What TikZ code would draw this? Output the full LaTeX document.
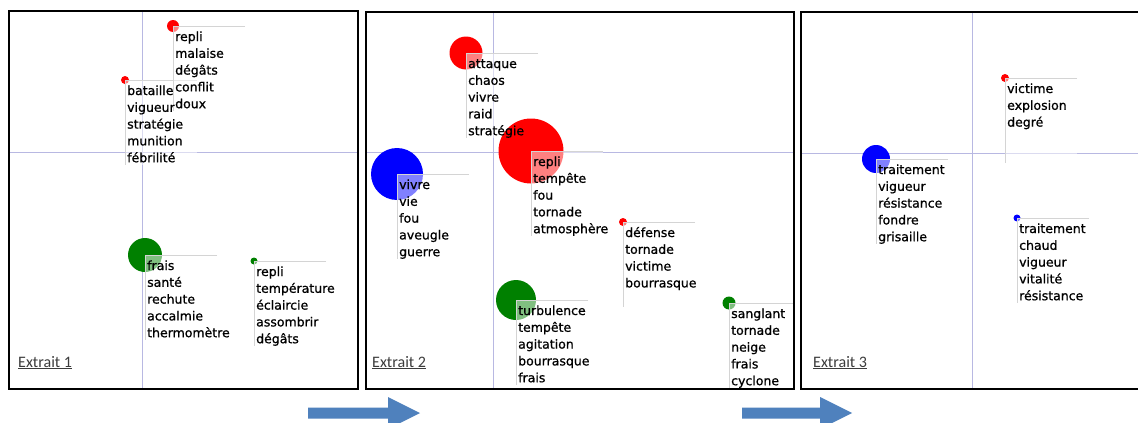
\documentclass[tikz,border=0pt]{standalone}
\usepackage{fontspec}
\setmainfont{DejaVu Sans}
\newfontfamily\wordfont{DejaVu Sans}[RawFeature={embolden=0.9}]
\newfontfamily\captionfont{Carlito}

\pgfdeclarelayer{front}
\pgfsetlayers{main,front}

\definecolor{axiscol}{RGB}{184,184,226}
\definecolor{edgecol}{RGB}{212,212,212}
\definecolor{dotred}{RGB}{255,0,0}
\definecolor{dotblue}{RGB}{0,0,255}
\definecolor{dotgreen}{RGB}{0,128,0}
\definecolor{arrowblue}{RGB}{79,129,189}
\definecolor{captioncol}{RGB}{60,60,60}

\tikzset{
  panelframe/.style={draw=black, line width=1.4pt},
  axisline/.style={draw=axiscol, line width=1pt},
  dot/.style={circle, inner sep=0pt, draw=none},
  labelbox/.style={fill=white, fill opacity=0.5},
  boxedge/.style={draw=edgecol, line width=1pt},
  word/.style={font=\wordfont\fontsize{12.5}{15}\selectfont, anchor=base west, inner sep=0pt, text=black},
  caption/.style={font=\captionfont\fontsize{16}{19}\selectfont, text=captioncol, anchor=base west, inner sep=0pt},
  flowarrow/.style={fill=arrowblue, draw=none},
}

% One group of words: a dot, a half-transparent label box and the word list
% #1 name, #2 x, #3 y, #4 radius, #5 colour, #6 words
\newcommand\wordcluster[6]{%
  \node[dot, fill=#5, minimum size={2*#4}] (#1) at (#2,#3) {};
  \fill[labelbox] (#2,#3) rectangle ({#2+72},{#3+85});
  \draw[boxedge] ({#2+72},#3) -- (#2,#3) -- (#2,{#3+85});
  \begin{pgfonlayer}{front}
    \foreach \w [count=\i] in {#6}
      \node[word] (#1-\i) at ({#2+2},{#3+15+16.8*(\i-1)}) {\w};
  \end{pgfonlayer}
}

\begin{document}
\begin{tikzpicture}[x=1pt, y=-1pt]
  \fill[white] (0,0) rectangle (1138,423);
  \useasboundingbox (0,0) rectangle (1138,423);

  % ---- Extrait 1 ----
  \begin{scope}
    \clip (9,11) rectangle (358,389);
    \draw[axisline] (142,11) -- (142,389);
    \draw[axisline] (9,152) -- (358,152);
    \wordcluster{b1}{125}{80}{4}{dotred}{bataille,vigueur,stratégie,munition,fébrilité}
    \wordcluster{a1}{173}{26}{6}{dotred}{repli,malaise,dégâts,conflit,doux}
    \wordcluster{c1}{145}{255}{17}{dotgreen}{frais,santé,rechute,accalmie,thermomètre}
    \wordcluster{d1}{254}{261}{3.5}{dotgreen}{repli,température,éclaircie,assombrir,dégâts}
  \end{scope}

  % ---- Extrait 2 ----
  \begin{scope}
    \clip (366,12) rectangle (794,389);
    \draw[axisline] (493,12) -- (493,389);
    \draw[axisline] (366,152) -- (794,152);
    \wordcluster{e2}{466}{53}{16.5}{dotred}{attaque,chaos,vivre,raid,stratégie}
    \wordcluster{f2}{531}{151}{32.5}{dotred}{repli,tempête,fou,tornade,atmosphère}
    \wordcluster{g2}{397}{174}{26}{dotblue}{vivre,vie,fou,aveugle,guerre}
    \wordcluster{h2}{623}{222}{4}{dotred}{défense,tornade,victime,bourrasque}
    \wordcluster{i2}{516}{300}{20}{dotgreen}{turbulence,tempête,agitation,bourrasque,frais}
    \wordcluster{j2}{729}{303}{6.5}{dotgreen}{sanglant,tornade,neige,frais,cyclone}
  \end{scope}

  % ---- Extrait 3 ----
  \begin{scope}
    \clip (801,12) rectangle (1150,389);
    \draw[axisline] (972,12) -- (972,389);
    \draw[axisline] (801,153) -- (1150,153);
    \wordcluster{k3}{1005}{78}{4}{dotred}{victime,explosion,degré}
    \wordcluster{l3}{876}{159}{14}{dotblue}{traitement,vigueur,résistance,fondre,grisaille}
    \wordcluster{m3}{1017}{218}{3.5}{dotblue}{traitement,chaud,vigueur,vitalité,résistance}
  \end{scope}

  % captions
  \node[caption] (cap1) at (18,367) {\underline{Extrait 1}};
  \node[caption] (cap2) at (372,367) {\underline{Extrait 2}};
  \node[caption] (cap3) at (813,367) {\underline{Extrait 3}};

  % block arrows between the extracts
  \fill[flowarrow] (308,407.5) -- (388,407.5) -- (388,397) -- (420,413)
    -- (388,429) -- (388,418.5) -- (308,418.5) -- cycle;
  \fill[flowarrow] (742,407.5) -- (820,407.5) -- (820,397) -- (852,413)
    -- (820,429) -- (820,418.5) -- (742,418.5) -- cycle;

  % panel frames
  \begin{pgfonlayer}{front}
    \draw[panelframe] (9,11) rectangle (358,389);
    \draw[panelframe] (366,12) rectangle (794,389);
    \draw[panelframe] (801,12) rectangle (1150,389);
  \end{pgfonlayer}
\end{tikzpicture}
\end{document}
